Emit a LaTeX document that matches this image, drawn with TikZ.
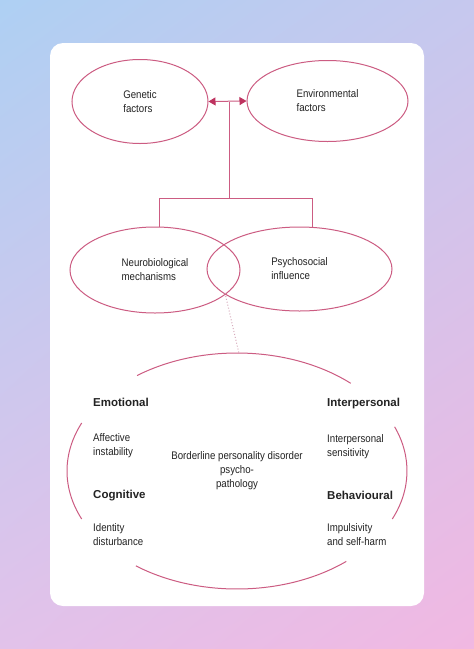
\documentclass[tikz,border=0pt]{standalone}
\usepackage{fontspec}
\setmainfont{Liberation Sans}
\newfontfamily\cond[FakeStretch=0.88]{Liberation Sans}
\usetikzlibrary{shapes.geometric,arrows.meta,shadings}
\definecolor{bgtl}{RGB}{174,208,243}
\definecolor{bgtr}{RGB}{198,200,238}
\definecolor{bgbl}{RGB}{226,194,234}
\definecolor{bgbr}{RGB}{241,184,226}
\definecolor{pinkline}{RGB}{204,92,130}
\definecolor{tipcol}{RGB}{190,50,95}
\definecolor{dotcol}{RGB}{215,170,188}
\definecolor{txt}{RGB}{35,35,35}
\tikzset{
  oval/.style={ellipse, draw=pinkline, line width=1pt, inner sep=0pt, align=left,
    text=txt, font=\cond\fontsize{11}{14}\selectfont},
  link/.style={draw=pinkline, line width=1pt},
  head/.style={anchor=base west, inner sep=0pt, text=txt, font=\bfseries\fontsize{11.5}{14}\selectfont},
  desc/.style={anchor=west, inner sep=0pt, align=left, text=txt, font=\cond\fontsize{11}{14}\selectfont},
  ctext/.style={inner sep=0pt, align=center, text=txt, font=\cond\fontsize{11}{14}\selectfont},
  bigarc/.style={draw=pinkline, line width=1pt}
}
\begin{document}
\begin{tikzpicture}[x=1pt,y=-1pt]
\useasboundingbox (0,0) rectangle (474,649);
\shade[upper left=bgtl, upper right=bgtr, lower left=bgbl, lower right=bgbr] (0,0) rectangle (474,649);
\fill[white, rounded corners=13pt] (50,43) rectangle (424,606);

% top ellipses
\node[oval, minimum width=136pt, minimum height=84pt] (gen) at (140,101.5) {Genetic\\factors};
\node[oval, minimum width=161pt, minimum height=81pt] (env) at (327.5,101) {Environmental\\factors};
\draw[link, {Triangle[width=8pt,length=7pt,color=tipcol]}-{Triangle[width=8pt,length=7pt,color=tipcol]}] (gen.east) -- (env.west);

% middle ellipses
\node[oval, minimum width=170pt, minimum height=86pt] (neuro) at (155,270) {Neurobiological\\mechanisms};
\node[oval, minimum width=185pt, minimum height=84pt] (psy) at (299.5,269) {Psychosocial\\influence};

% connectors
\coordinate (jt) at (229,101.5);
\coordinate (js) at (229,198);
\coordinate (sl) at (159,198);
\coordinate (sr) at (312,198);
\draw[link] (jt) -- (js);
\draw[link] (sl) -- (sr);
\draw[link] (sl) -- (sl |- neuro.north);
\draw[link] (sr) -- (sr |- psy.north);

% big broken ellipse
\coordinate (bc) at (237,471);
\coordinate (ov) at (225,293);
\coordinate (bt) at (239,353.5);
\draw[dotcol, line width=1pt, dotted] (ov) -- (bt);
\draw[bigarc, shift={(bc)}] (-48:170 and 118) arc[start angle=-48, end angle=-126, x radius=170, y radius=118];
\draw[bigarc, shift={(bc)}] (-156:170 and 118) arc[start angle=-156, end angle=-204, x radius=170, y radius=118];
\draw[bigarc, shift={(bc)}] (24:170 and 118) arc[start angle=24, end angle=-22, x radius=170, y radius=118];
\draw[bigarc, shift={(bc)}] (126.5:170 and 118) arc[start angle=126.5, end angle=50, x radius=170, y radius=118];

\node[ctext] (bpd) at (bc) {Borderline personality disorder\\psycho-\\pathology};

\node[head] (emo) at (93,406) {Emotional};
\node[desc] (emod) at (93,446) {Affective\\instability};
\node[head] (cog) at (93,498) {Cognitive};
\node[desc] (cogd) at (93,534.5) {Identity\\disturbance};
\node[head] (inter) at (327,406) {Interpersonal};
\node[desc] (interd) at (327,447) {Interpersonal\\sensitivity};
\node[head] (beh) at (327,499) {Behavioural};
\node[desc] (behd) at (327,534.5) {Impulsivity\\and self-harm};
\end{tikzpicture}
\end{document}
